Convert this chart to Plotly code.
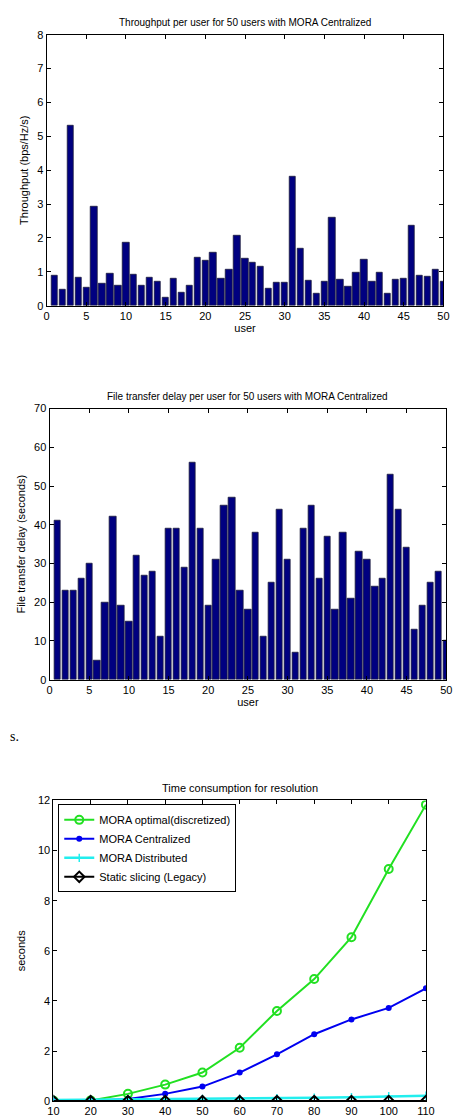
import plotly.graph_objects as go

W, H = 464, 1120

users = list(range(1, 51))
throughput = [0.90, 0.48, 5.32, 0.83, 0.52, 2.92, 0.64, 0.96, 0.60, 1.86,
              0.92, 0.60, 0.83, 0.71, 0.23, 0.79, 0.39, 0.59, 1.41, 1.33,
              1.58, 0.81, 1.05, 2.08, 1.38, 1.26, 1.14, 0.49, 0.69, 0.69,
              3.82, 1.68, 0.74, 0.35, 0.71, 2.60, 0.77, 0.57, 0.98, 1.35,
              0.70, 0.99, 0.35, 0.78, 0.81, 2.36, 0.89, 0.85, 1.06, 0.72]
delay = [41, 23, 23, 26, 30, 5, 20, 42, 19, 15,
         32, 27, 28, 11, 39, 39, 29, 56, 39, 19,
         31, 45, 47, 23, 18, 38, 11, 25, 44, 31,
         7, 39, 45, 26, 37, 18, 38, 21, 33, 31,
         24, 26, 53, 44, 34, 13, 19, 25, 28, 10]

n_users = [10, 20, 30, 40, 50, 60, 70, 80, 90, 100, 110]
t_optimal = [0.02, 0.03, 0.29, 0.66, 1.14, 2.13, 3.60, 4.87, 6.54, 9.26, 11.83]
t_central = [0.01, 0.02, 0.09, 0.29, 0.58, 1.14, 1.87, 2.67, 3.26, 3.72, 4.50]
t_distrib = [0.05, 0.06, 0.07, 0.08, 0.09, 0.10, 0.12, 0.14, 0.16, 0.20, 0.22]
t_static = [0.005, 0.005, 0.005, 0.005, 0.005, 0.005, 0.005, 0.005, 0.005, 0.005, 0.005]

FONT = "Liberation Sans, Arial, sans-serif"

def px_x(a, b):
    return [a / W, b / W]

def px_y(top, bottom):
    return [1 - bottom / H, 1 - top / H]

fig = go.Figure()

bar_style = dict(marker=dict(color="#000080", line=dict(color="#1a1a3a", width=0.8)),
                 width=0.8, showlegend=False)
fig.add_trace(go.Bar(x=users, y=throughput, xaxis="x", yaxis="y", **bar_style))
fig.add_trace(go.Bar(x=users, y=delay, xaxis="x2", yaxis="y2", **bar_style))

fig.add_trace(go.Scatter(x=n_users, y=t_optimal, xaxis="x3", yaxis="y3",
                         name="MORA optimal(discretized)", mode="lines+markers",
                         line=dict(color="#22e022", width=2),
                         marker=dict(symbol="circle-open", size=8, line=dict(width=2, color="#22e022"))))
fig.add_trace(go.Scatter(x=n_users, y=t_central, xaxis="x3", yaxis="y3",
                         name="MORA Centralized", mode="lines+markers",
                         line=dict(color="#0000f0", width=2),
                         marker=dict(symbol="circle", size=6, color="#0000f0")))
fig.add_trace(go.Scatter(x=n_users, y=t_distrib, xaxis="x3", yaxis="y3",
                         name="MORA Distributed", mode="lines+markers",
                         line=dict(color="#22eeee", width=2.5),
                         marker=dict(symbol="cross-thin-open", size=6, line=dict(width=1.5, color="#22eeee"))))
fig.add_trace(go.Scatter(x=n_users, y=t_static, xaxis="x3", yaxis="y3",
                         name="Static slicing (Legacy)", mode="lines+markers",
                         line=dict(color="#000000", width=2),
                         marker=dict(symbol="diamond-open", size=8, line=dict(width=2, color="#000000"))))

axis_common = dict(showline=True, linecolor="black", linewidth=1, mirror="allticks",
                   ticks="inside", ticklen=4, tickcolor="black", showgrid=False,
                   zeroline=False, tickfont=dict(family=FONT, size=11, color="black"))

fig.update_layout(
    width=W, height=H, margin=dict(l=0, r=0, t=0, b=0),
    paper_bgcolor="white", plot_bgcolor="white",
    font=dict(family=FONT, color="black"),
    barmode="overlay", bargap=0,
    xaxis=dict(domain=px_x(42, 452), range=[0, 50], tickvals=list(range(0, 51, 5)),
               anchor="y", title=dict(text="user", font=dict(size=11), standoff=2), **axis_common),
    yaxis=dict(domain=px_y(29, 303), range=[0, 8], tickvals=list(range(0, 9)),
               anchor="x", title=dict(text="Throughput (bps/Hz/s)", font=dict(size=11), standoff=6), **axis_common),
    xaxis2=dict(domain=px_x(45, 455), range=[0, 50], tickvals=list(range(0, 51, 5)),
                anchor="y2", title=dict(text="user", font=dict(size=11), standoff=2), **axis_common),
    yaxis2=dict(domain=px_y(407, 681), range=[0, 70], tickvals=list(range(0, 71, 10)),
                anchor="x2", title=dict(text="File transfer delay (seconds)", font=dict(size=11), standoff=6), **axis_common),
    xaxis3=dict(domain=px_x(49, 434), range=[10, 110], tickvals=n_users,
                anchor="y3", **axis_common),
    yaxis3=dict(domain=px_y(803, 1107), range=[0, 12], tickvals=list(range(0, 13, 2)),
                anchor="x3", title=dict(text="seconds", font=dict(size=11), standoff=10), **axis_common),
    legend=dict(x=54 / W, y=1 - 807 / H, xanchor="left", yanchor="top",
                bgcolor="white", bordercolor="black", borderwidth=1,
                font=dict(family=FONT, size=11, color="black"),
                itemwidth=30, tracegroupgap=0),
    annotations=[
        dict(text="Throughput per user for 50 users with MORA Centralized", x=247 / W, y=1 - 17 / H,
             xref="paper", yref="paper", showarrow=False, font=dict(size=10), xanchor="center", yanchor="middle"),
        dict(text="File transfer delay per user for 50 users with MORA Centralized", x=250 / W, y=1 - 395 / H,
             xref="paper", yref="paper", showarrow=False, font=dict(size=10), xanchor="center", yanchor="middle"),
        dict(text="Time consumption for resolution", x=242 / W, y=1 - 790 / H,
             xref="paper", yref="paper", showarrow=False, font=dict(size=11), xanchor="center", yanchor="middle"),
        dict(text="s.", x=2 / W, y=1 - 738 / H, xref="paper", yref="paper", showarrow=False,
             font=dict(family="Liberation Serif, Times New Roman, serif", size=14), xanchor="left", yanchor="middle"),
    ],
)

fig.write_html("out.html")
